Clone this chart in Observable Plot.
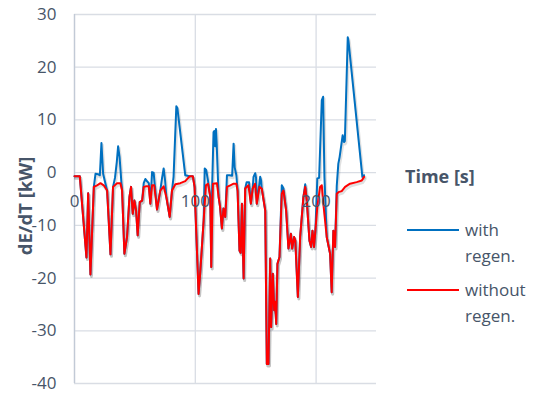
<!DOCTYPE html>
<html>
<head>
<meta charset="utf-8">
<script src="https://cdn.jsdelivr.net/npm/d3@7"></script>
<script src="https://cdn.jsdelivr.net/npm/@observablehq/plot@0.6"></script>
<style>
  html, body { margin: 0; padding: 0; background: #fff; }
  #wrap { position: relative; width: 541px; height: 393px; font-family: "Open Sans", sans-serif; color: #475569; }
  .lg { position: absolute; font-size: 17px; line-height: 26px; }
  .sw { position: absolute; height: 2px; width: 52px; }
</style>
</head>
<body>
<div id="wrap">
  <div id="chart"></div>
  <div class="lg" style="left:405px; top:164px; font-weight:bold; font-size:18px; line-height:24px;">Time [s]</div>
  <div class="sw" style="left:407px; top:229px; background:#0070c0;"></div>
  <div class="lg" style="left:465px; top:217px;">with<br>regen.</div>
  <div class="sw" style="left:407px; top:289px; background:#ff0000;"></div>
  <div class="lg" style="left:465px; top:277px;">without<br>regen.</div>
</div>
<script>
const yTicks = [-40, -30, -20, -10, 0, 10, 20, 30];
const xTicks = [0, 100, 200];
const xTickLabels = ["0", "100", "200"];
const yLabel = "dE/dT [kW]";

const tWithout = [0,4.4,9.9,11.3,13.2,16,18.7,21.5,24.2,27,29.8,31.9,35.2,38,39.4,41.3,43.5,45.5,46.8,48.2,49.6,51,52.3,54,56,57.3,59.5,61.5,62.8,64.2,66,68.3,71,73.8,76,78.8,80.7,83.5,87.6,91.7,95.3,98,99.4,102.7,104,106.9,108.8,110.5,112.4,113.2,114.6,117.9,119.3,120.5,122,123.3,124.8,126.2,129,131.7,134,135,136.6,137.6,138.6,140,141.3,144,146,147.5,149.5,150.9,153.1,155,157.9,159.2,160.6,162,162.8,164.2,165.3,166,167,168,169.7,171.6,173,175.2,177.1,179.1,180.2,181.8,182.8,184.9,186.8,189.5,191,192.3,194.5,195.9,197,198.3,199.4,201,203.3,204.7,206,208.8,211.6,212.9,214.3,215.7,217.1,218.5,221.2,224,228.1,233.6,237.8,239.7];
const vWithout = [-0.7,-0.7,-16.1,-3.9,-19.3,-2.7,-2.4,-2.0,-2.4,-3.4,-15.5,-2.7,-2.0,-2.0,-3.4,-15.4,-12.2,-4.6,-2.7,-7.8,-5.3,-7.2,-11.9,-5.6,-5.3,-2.7,-2.6,-2.6,-5.9,-2.4,-2.4,-7.0,-3.4,-2.6,-4.6,-8.4,-3.4,-2.2,-2.0,-1.6,-0.7,-0.7,-2.7,-23.0,-19.2,-9.1,-2.4,-2.1,-4.6,-17.9,-2.1,-2.0,-4.6,-6.5,-10.6,-6.8,-8.4,-2.7,-2.4,-2.1,-2.1,-3.4,-14.8,-15.2,-5.9,-20.1,-3.0,-2.4,-5.9,-3.0,-2.1,-5.9,-2.7,-3.0,-7.2,-36.3,-36.3,-16.3,-29.3,-19.2,-26.1,-24.5,-28.7,-17.3,-16.0,-4.0,-3.4,-7.2,-14.4,-11.6,-14.4,-12.2,-12.9,-23.6,-12.2,-4.6,-2.7,-5.3,-12.9,-14.1,-11.0,-14.1,-11.0,-6.5,-2.7,-2.4,-5.9,-12.2,-15.4,-22.7,-11.0,-14.1,-4.0,-3.7,-3.5,-2.7,-2.1,-1.8,-1.5,-0.8];

const tWith = [0,4.4,9.9,11.3,13.2,16,17.4,19.5,21,22.3,23.7,25,27,29.8,31.9,33.5,35,36.1,37.3,38.8,39.4,41.3,43.5,45.5,46.8,48.2,49.6,51,52.3,54,56,57.3,58.7,59.5,61.5,62.8,64.2,65.5,66.5,68.3,71,72.5,73.8,75,76,78.8,80.7,82,84.3,85.2,91.7,95.3,98,99.4,102.7,104,106.9,107.8,109,110.5,112.4,113.2,114,115.1,115.8,116.4,117.1,117.7,118.6,119.3,120.5,122,123.3,124.8,126.2,128.5,130.5,131.7,132.6,134,135,136.6,137.6,138.6,140,141.3,142.5,144.5,146,147.5,148.2,149.6,150.3,150.9,153.1,153.7,154.5,155,157.9,159.2,160.6,162,162.8,164.2,165.3,166,167,168,169.7,171.6,173,175.2,177.1,179.1,180.2,181.8,182.8,184.9,186.8,189.5,191,192.3,194.5,195.9,197,198.3,199.4,201,202.5,204.7,205.8,206.9,208.8,211.6,212.9,214.3,215.7,217.1,218.4,219.5,222,223.1,223.8,226.2,226.8,238.3,239.7];
const vWith = [-0.7,-0.7,-16.1,-3.9,-19.3,-2.7,-0.2,-0.3,-0.5,5.6,-0.2,-1.5,-3.4,-15.5,-2.7,-1.0,2.0,5.0,3.0,-1.8,-3.4,-15.4,-12.2,-4.6,-2.7,-7.8,-5.3,-7.2,-11.9,-5.6,-5.3,-2.0,-1.2,-1.5,-2.0,-5.9,0.1,0.0,-2.4,-7.0,-3.4,-1.0,0.8,-1.5,-4.6,-8.4,-3.4,-0.8,12.6,12.2,-0.5,-0.7,-0.7,-2.7,-23.0,-19.2,-9.1,0.8,0.5,-1.5,-4.6,-17.9,-2.0,7.7,7.9,5.0,8.3,5.5,-0.2,-4.6,-6.5,-10.6,-6.8,-8.4,-0.5,-0.5,-0.6,5.5,1.0,-0.5,-3.4,-14.8,-15.2,-5.9,-20.1,-3.0,-1.8,-1.8,-5.9,-3.0,-0.8,-0.1,-1.0,-5.9,-2.0,-0.8,-1.5,-3.0,-7.2,-36.3,-36.3,-16.3,-29.3,-19.2,-26.1,-24.5,-28.7,-17.3,-16.0,-2.4,-3.0,-7.2,-14.4,-11.6,-14.4,-12.2,-12.9,-23.6,-12.2,-4.6,-2.2,-5.3,-12.9,-14.1,-11.0,-14.1,-11.0,-1.1,-1.0,13.7,14.4,-0.8,-12.2,-15.4,-22.7,-11.0,-14.1,-2.5,1.7,3.0,7.1,5.8,6.0,25.7,25.0,-0.8,-0.5];

const withData = tWith.map((t, i) => ({t, v: vWith[i]}));
const withoutData = tWithout.map((t, i) => ({t, v: vWithout[i]}));

const textColor = "#475569";
const gridColor = "#d9dde4";

const chart = Plot.plot({
  width: 541,
  height: 393,
  marginLeft: 74,
  marginRight: 165,
  marginTop: 14,
  marginBottom: 10,
  style: {fontFamily: "'Open Sans', sans-serif", color: textColor, background: "#fff"},
  x: {domain: [0, 250], axis: null},
  y: {domain: [-40, 30], axis: null},
  marks: [
    Plot.ruleY(yTicks, {stroke: gridColor, strokeWidth: 1.3}),
    Plot.ruleX(xTicks, {stroke: gridColor, strokeWidth: 1.3}),
    Plot.ruleX([0], {stroke: "#c2cad6", strokeWidth: 1.3}),
    Plot.axisY({ticks: yTicks, tickSize: 0, tickPadding: 18, fontSize: 17, label: null, fill: textColor, tickFormat: d => String(d)}),
    Plot.text([yLabel], {frameAnchor: "left", textAnchor: "middle", rotate: -90, dx: -48, dy: 7, fontSize: 18.5, fontWeight: "bold", fill: textColor}),
    Plot.line(withData, {x: "t", y: "v", stroke: "#000", strokeOpacity: 0.12, strokeWidth: 3, dx: 1, dy: 2}),
    Plot.line(withoutData, {x: "t", y: "v", stroke: "#000", strokeOpacity: 0.12, strokeWidth: 3, dx: 1, dy: 2}),
    Plot.line(withData, {x: "t", y: "v", stroke: "#0070c0", strokeWidth: 2}),
    Plot.line(withoutData, {x: "t", y: "v", stroke: "#ff0000", strokeWidth: 2}),
    Plot.text(xTicks, {x: d => d, y: () => 0, text: (d, i) => xTickLabels[i], dy: 29, fontSize: 17, fill: textColor})
  ]
});
document.getElementById("chart").appendChild(chart);
</script>
</body>
</html>
